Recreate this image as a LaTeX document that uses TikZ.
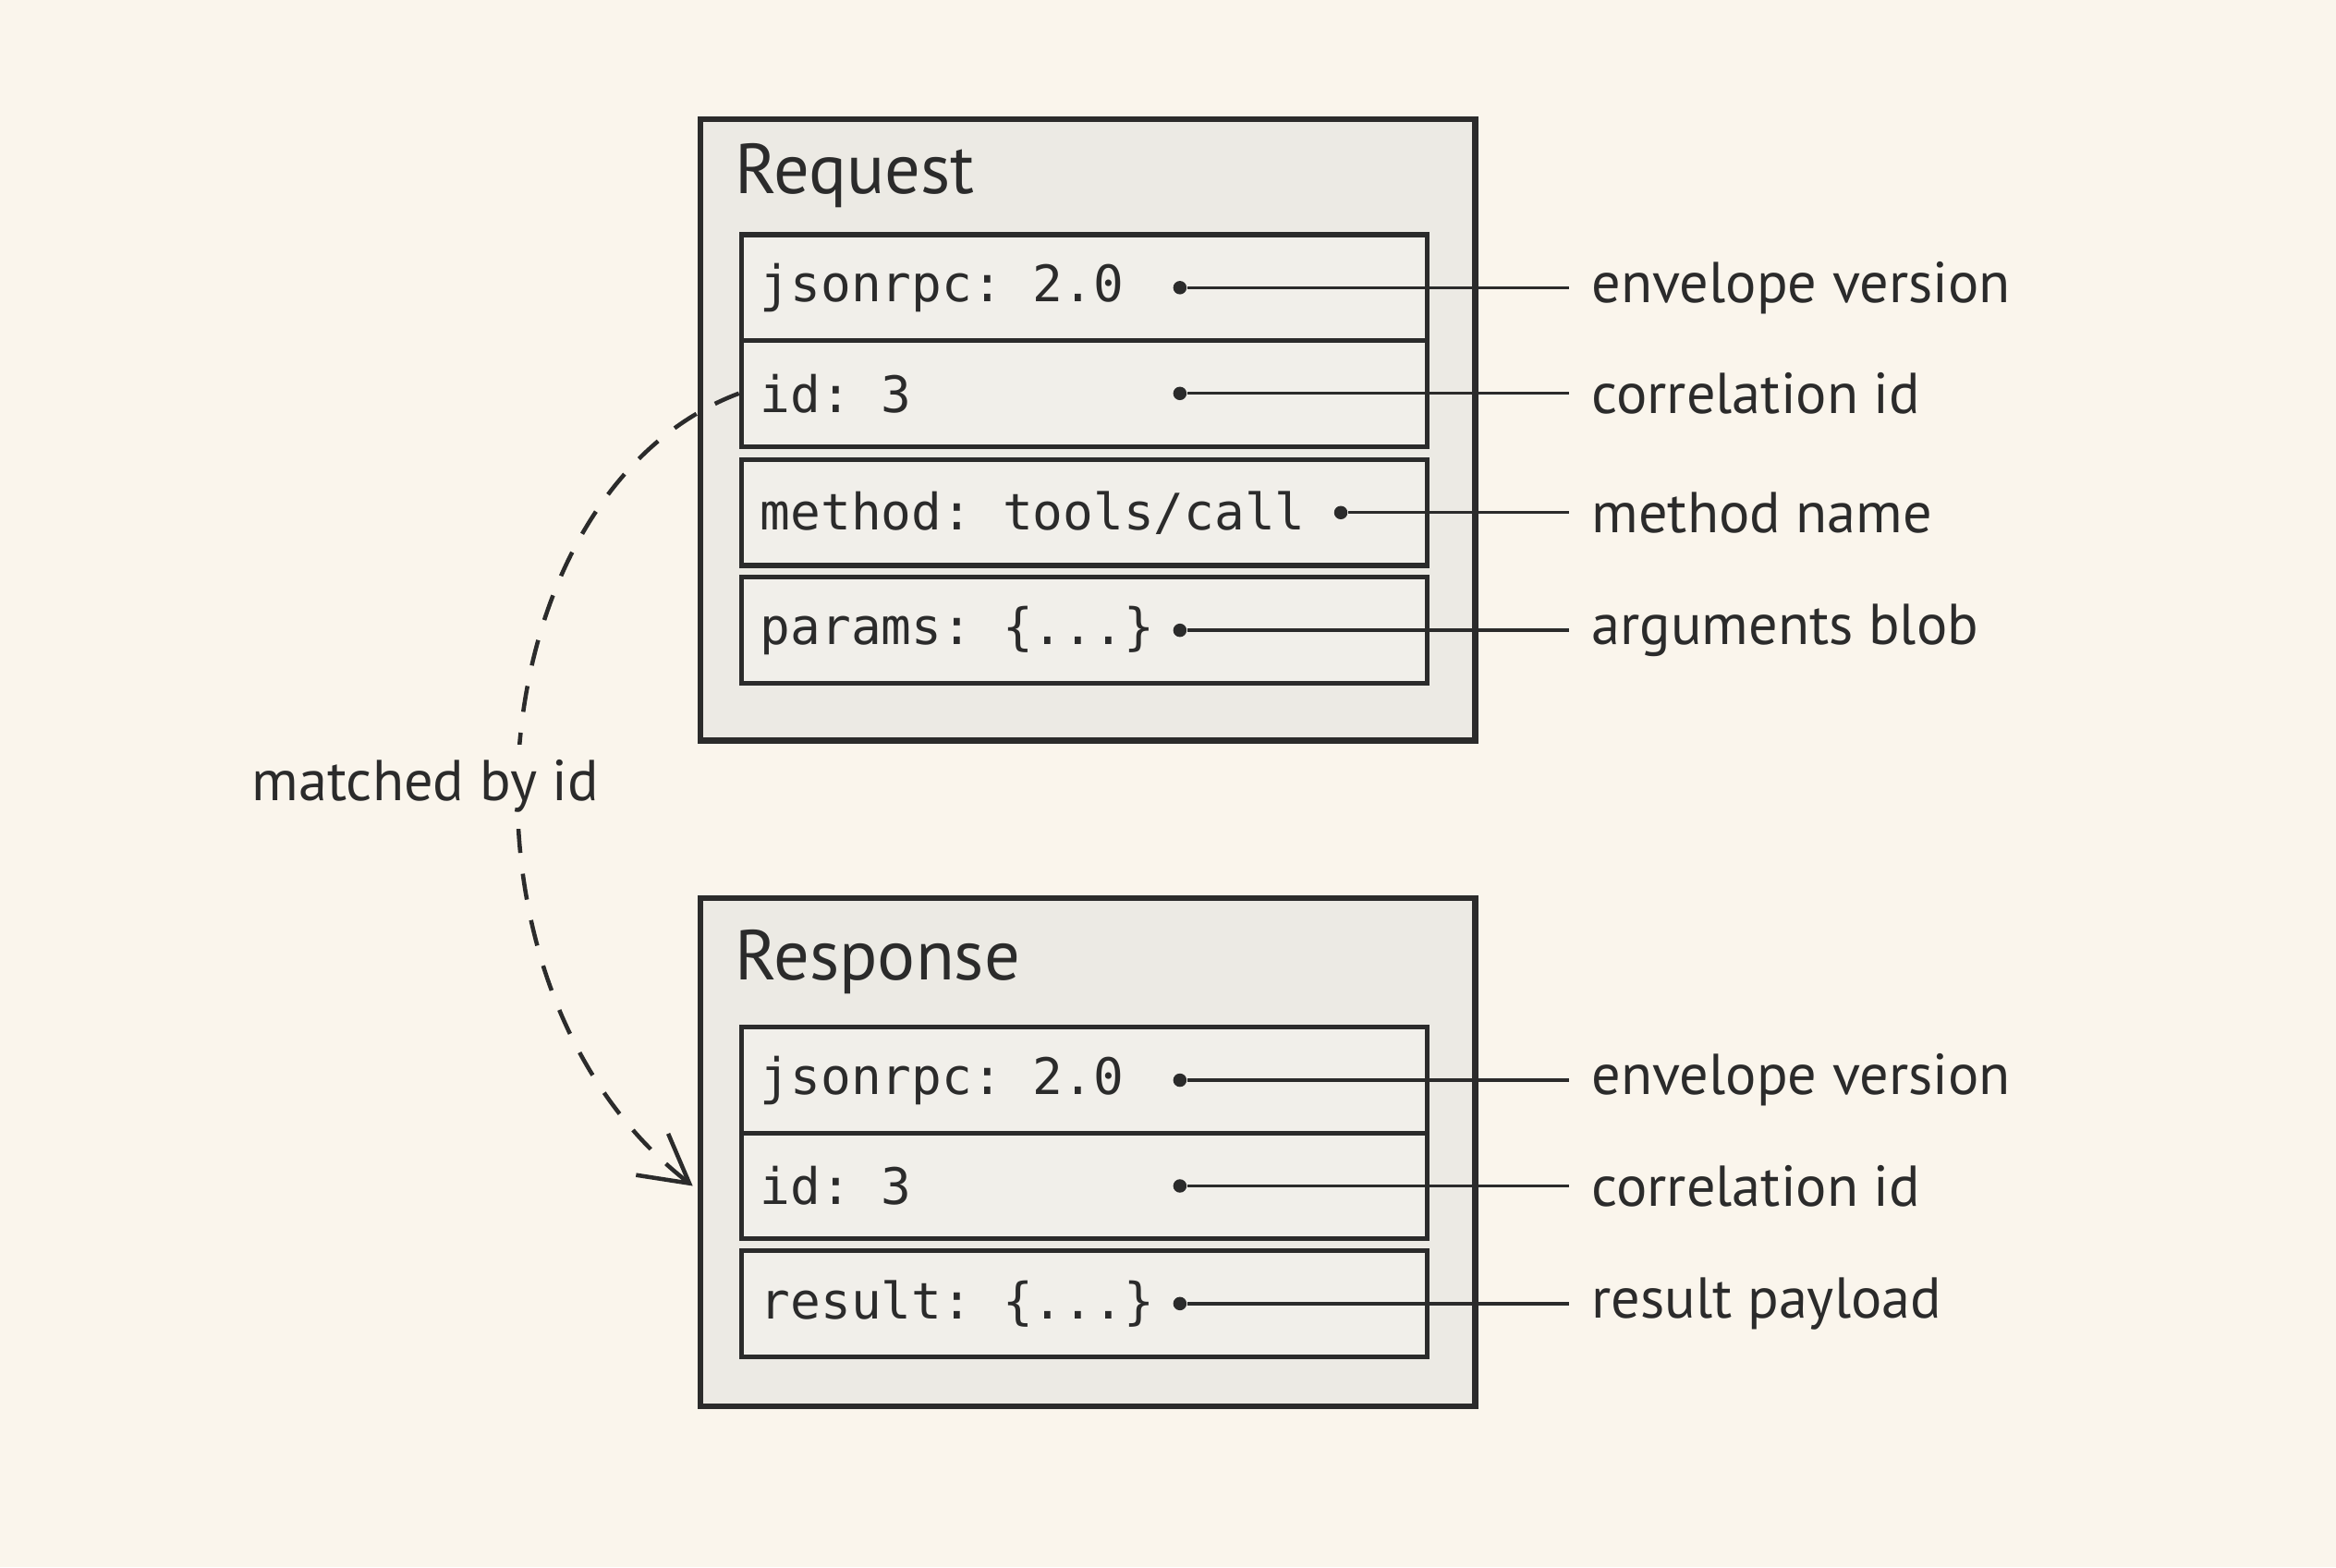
\documentclass[tikz,border=0pt]{standalone}
\usepackage{fontspec}
\setmainfont{PT Sans}
\setmonofont{DejaVu Sans Mono}
\usetikzlibrary{positioning,arrows.meta}
\definecolor{paper}{HTML}{FAF5EC}
\definecolor{boxfill}{HTML}{ECEAE4}
\definecolor{rowfill}{HTML}{F1EFEA}
\definecolor{ink}{HTML}{2B2B2B}
\tikzset{
  msgbox/.style={draw=ink, line width=1.1pt, fill=boxfill, anchor=north west, minimum width=5.2cm, inner sep=0pt},
  field/.style={draw=ink, line width=0.9pt, fill=rowfill, anchor=north west, minimum width=4.6cm, minimum height=0.71cm, inner sep=0pt},
  fieldtext/.style={font=\ttfamily\fontsize{9.6}{11}\selectfont, anchor=west, text=ink},
  note/.style={font=\fontsize{11}{13}\selectfont, anchor=west, text=ink},
  title/.style={font=\fontsize{13.5}{16}\selectfont, anchor=west, text=ink},
  pin/.style={circle, fill=ink, inner sep=0pt, minimum size=0.09cm},
  leader/.style={draw=ink, line width=0.6pt}
}
\begin{document}
\begin{tikzpicture}[x=0.01cm, y=-0.01cm]
\fill[paper] (0,0) rectangle (1568,1052);
\useasboundingbox (0,0) rectangle (1568,1052);
% boxes
\node[msgbox, minimum height=4.17cm] (rq) at (468,78) {};
\node[title] at (481,118) {Request};
\node[msgbox, minimum height=3.41cm] (rs) at (468,601) {};
\node[title] at (481,646) {Response};
% request fields
\node[field] (rq-ver) at (496,156) {};
\node[field] (rq-id) at (496,227) {};
\node[field] (rq-m) at (496,307) {};
\node[field] (rq-p) at (496,386) {};
% response fields
\node[field] (rs-ver) at (496,688) {};
\node[field] (rs-id) at (496,759) {};
\node[field] (rs-r) at (496,838) {};
\foreach \f/\t/\d/\n in {rq-ver/{jsonrpc: 2.0}/792/{envelope version},
    rq-id/{id: 3}/792/{correlation id},
    rq-m/{method: tools/call}/900/{method name},
    rq-p/{params: \{...\}}/792/{arguments blob},
    rs-ver/{jsonrpc: 2.0}/792/{envelope version},
    rs-id/{id: 3}/792/{correlation id},
    rs-r/{result: \{...\}}/792/{result payload}}{
  \node[fieldtext] at ([xshift=0.02cm]\f.west) {\t};
  \node[pin] (\f-pin) at (\d, 0 |- \f.center) {};
  \coordinate (\f-end) at (1053, 0 |- \f.center);
  \node[note] at ([xshift=0.03cm]\f-end) {\n};
  \draw[leader] (\f-pin) -- (\f-end);
}
% id matching
\coordinate (rs-in) at ([xshift=-0.03cm]rs.west |- rs-id.center);
\draw[ink, line width=0.8pt, dash pattern=on 5pt off 4pt, -{Straight Barb[length=9pt,width=10pt]}]
  (rq-id.west) .. controls (320,330) and (290,660) .. (rs-in);
\node[note, fill=paper, inner sep=3pt] (match) at (158,528) {matched by id};
\end{tikzpicture}
\end{document}
